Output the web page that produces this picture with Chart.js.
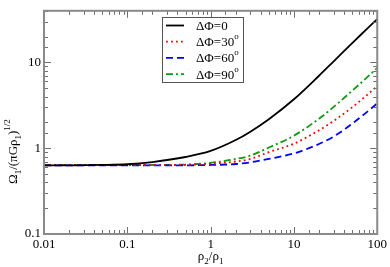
<!DOCTYPE html>
<html><head><meta charset="utf-8">
<script src="https://cdn.jsdelivr.net/npm/chart.js@4"></script>
<style>html,body{margin:0;padding:0;background:#fff}</style>
</head><body>
<canvas id="c" width="390" height="267" style="width:390px;height:267px;display:block"></canvas>
<script>
// ---- data ----
const rhoRatio = [0.01,0.02,0.05,0.1,0.2,0.5,1,2,3,5,10,20,30,50,70,100];
const omegaDPhi0  = [0.63,0.632,0.638,0.65,0.69,0.79,0.93,1.245,1.56,2.18,3.72,7.0,10.3,16.8,23,32];
const omegaDPhi30 = [0.635,0.635,0.635,0.635,0.636,0.64,0.66,0.70,0.75,0.90,1.13,1.62,2.08,3.0,3.93,5.3];
const omegaDPhi60 = [0.63,0.63,0.63,0.63,0.63,0.632,0.638,0.655,0.685,0.75,0.87,1.12,1.37,1.93,2.5,3.33];
const omegaDPhi90 = [0.635,0.635,0.635,0.635,0.637,0.645,0.675,0.75,0.82,1.02,1.4,2.21,3.03,4.68,6.27,8.65];
const seriesLabels = ['ΔΦ=0','ΔΦ=30^o','ΔΦ=60^o','ΔΦ=90^o'];
const xTickLabels = ['0.01','0.1','1','10','100'];
const yTickLabels = ['0.1','1','10'];
const xMin = 0.01, xMax = 100, yMin = 0.1, yMax = 40;

const SERIF = '"Liberation Serif","DejaVu Serif",serif';
const pts = arr => rhoRatio.map((x,i)=>({x, y: arr[i]}));
const isDecade = v => Math.abs(Math.log10(v) - Math.round(Math.log10(v))) < 1e-6;
function labelFor(v, list){
  const p = Math.round(Math.log10(v));
  return list.find(s => Math.round(Math.log10(parseFloat(s))) === p) || '';
}

function drawRich(ctx, parts, x, y){
  let cx = x;
  for (const p of parts){
    if (p.m === 'n'){ ctx.font = '13px '+SERIF; ctx.fillText(p.t, cx, y); }
    else if (p.m === 'sub'){ ctx.font = '9px '+SERIF; ctx.fillText(p.t, cx, y+3.5); }
    else { ctx.font = '9px '+SERIF; ctx.fillText(p.t, cx, y-7); }
    cx += ctx.measureText(p.t).width;
  }
  return cx - x;
}
function parseLabel(s){
  const i = s.indexOf('^');
  if (i < 0) return [{t:s, m:'n'}];
  return [{t:s.slice(0,i), m:'n'}, {t:s.slice(i+1), m:'sup'}];
}

const framePlugin = {
  id: 'frame',
  afterDraw(chart){
    const {ctx, chartArea:a, scales:{x, y}} = chart;
    ctx.save();
    // inward ticks
    ctx.strokeStyle = '#6f6f6f'; ctx.lineWidth = 1;
    ctx.beginPath();
    for (const t of x.ticks){
      const px = Math.round(x.getPixelForValue(t.value)) + 0.5;
      const len = isDecade(t.value) ? 7 : 4;
      ctx.moveTo(px, a.bottom); ctx.lineTo(px, a.bottom - len);
      ctx.moveTo(px, a.top); ctx.lineTo(px, a.top + len);
    }
    for (const t of y.ticks){
      const py = Math.round(y.getPixelForValue(t.value)) + 0.5;
      const len = isDecade(t.value) ? 7 : 4;
      ctx.moveTo(a.left, py); ctx.lineTo(a.left + len, py);
      ctx.moveTo(a.right, py); ctx.lineTo(a.right - len, py);
    }
    ctx.stroke();
    // frame
    ctx.strokeStyle = '#8a8a8a'; ctx.lineWidth = 2;
    ctx.strokeRect(a.left, a.top, a.right - a.left, a.bottom - a.top);

    // legend
    const lx = 162, ly = 17, lw = 81, lh = 65;
    ctx.fillStyle = '#fff'; ctx.fillRect(lx, ly, lw, lh);
    ctx.strokeStyle = '#555'; ctx.lineWidth = 1;
    ctx.strokeRect(lx + 0.5, ly + 0.5, lw, lh);
    chart.data.datasets.forEach((ds, i) => {
      const ry = ly + 8.5 + i * 16.2;
      ctx.strokeStyle = ds.borderColor; ctx.lineWidth = ds.borderWidth;
      ctx.setLineDash(ds.borderDash || []);
      ctx.beginPath(); ctx.moveTo(lx + 4, ry); ctx.lineTo(lx + 22, ry); ctx.stroke();
      ctx.setLineDash([]);
      ctx.fillStyle = '#000'; ctx.textBaseline = 'alphabetic'; ctx.textAlign = 'left';
      drawRich(ctx, parseLabel(ds.label), lx + 34, ry + 4.5);
    });

    // y title (rotated)
    ctx.save();
    ctx.translate(17, 184);
    ctx.rotate(-Math.PI/2);
    ctx.fillStyle = '#000'; ctx.textAlign = 'left'; ctx.textBaseline = 'alphabetic';
    drawRich(ctx, [{t:'Ω',m:'n'},{t:'1',m:'sub'},{t:'/(πGρ',m:'n'},{t:'1',m:'sub'},{t:')',m:'n'},{t:'1/2',m:'sup'}], 0, 0);
    ctx.restore();

    // x title
    ctx.fillStyle = '#000'; ctx.textAlign = 'left'; ctx.textBaseline = 'alphabetic';
    const xparts = [{t:'ρ',m:'n'},{t:'2',m:'sub'},{t:'/ρ',m:'n'},{t:'1',m:'sub'}];
    let w = 0;
    ctx.font = '13px '+SERIF; w += ctx.measureText('ρ').width + ctx.measureText('/ρ').width;
    ctx.font = '9px '+SERIF; w += ctx.measureText('2').width + ctx.measureText('1').width;
    drawRich(ctx, xparts, (a.left + a.right)/2 - w/2, 260);
    ctx.restore();
  }
};

new Chart(document.getElementById('c'), {
  type: 'line',
  data: {
    datasets: [
      {label: seriesLabels[0], data: pts(omegaDPhi0),  borderColor:'#000000', borderWidth:1.8, borderDash:[]},
      {label: seriesLabels[1], data: pts(omegaDPhi30), borderColor:'#ff0000', borderWidth:1.8, borderDash:[1.8,3.2]},
      {label: seriesLabels[2], data: pts(omegaDPhi60), borderColor:'#0000ff', borderWidth:1.8, borderDash:[7,4]},
      {label: seriesLabels[3], data: pts(omegaDPhi90), borderColor:'#119911', borderWidth:1.8, borderDash:[7,3,2,3]}
    ]
  },
  options: {
    responsive: false, animation: false, devicePixelRatio: 1,
    layout: {padding: {top: 1, right: 12, left: 0, bottom: 0}},
    elements: {point: {radius: 0}, line: {cubicInterpolationMode: 'monotone', fill: false}},
    plugins: {legend: {display: false}, tooltip: {enabled: false}},
    scales: {
      x: {
        type: 'logarithmic', min: xMin, max: xMax,
        grid: {display: false, drawTicks: false}, border: {display: false},
        afterFit: s => { s.height = 33; },
        ticks: {autoSkip: false, maxRotation: 0, padding: 3, color: '#000',
          font: {family: SERIF, size: 13},
          callback: v => isDecade(v) ? labelFor(v, xTickLabels) : ''}
      },
      y: {
        type: 'logarithmic', min: yMin, max: yMax,
        grid: {display: false, drawTicks: false}, border: {display: false},
        afterFit: s => { s.width = 44; },
        ticks: {autoSkip: false, padding: 3, color: '#000',
          font: {family: SERIF, size: 13},
          callback: v => isDecade(v) ? labelFor(v, yTickLabels) : ''}
      }
    }
  },
  plugins: [framePlugin]
});
</script>
</body></html>
